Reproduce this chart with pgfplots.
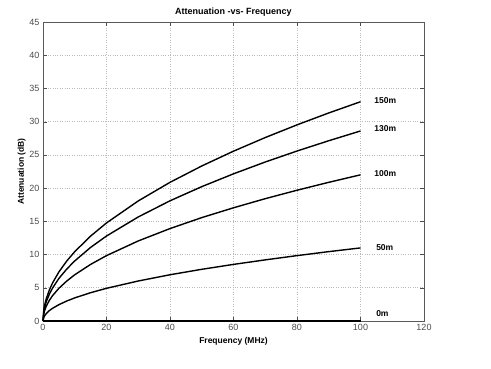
\documentclass[border=0pt]{standalone}
\usepackage{pgfplots}
\pgfplotsset{compat=1.18}
\usepackage{fontspec}
\setmainfont{Liberation Sans}
\begin{document}
\begin{tikzpicture}[x=1pt,y=1pt]
\path[use as bounding box] (0,0) rectangle (491,368);
\begin{axis}[
  at={(43pt,47pt)}, anchor=south west,
  scale only axis, width=381pt, height=299pt,
  xmin=0, xmax=120, ymin=0, ymax=45,
  xtick={0,20,...,120}, ytick={0,5,...,45},
  grid=major,
  major grid style={gray!55, dotted, line width=0.6pt},
  axis line style={gray!70!black, line width=0.8pt},
  tick style={gray!60!black},
  tick align=inside,
  xticklabel style={font=\fontsize{9}{10}\selectfont, text=black!70},
  yticklabel style={font=\fontsize{9}{10}\selectfont, text=black!70},
  /pgf/number format/assume math mode=true,
  title={\textbf{Attenuation -vs- Frequency}},
  title style={font=\fontsize{9}{10}\selectfont, yshift=-4pt},
  xlabel={\textbf{Frequency (MHz)}},
  ylabel={\textbf{Attenuation (dB)}},
  xlabel style={font=\fontsize{8.5}{10}\selectfont, yshift=0pt},
  ylabel style={font=\fontsize{8.5}{10}\selectfont, yshift=-3pt},
  clip=false,
]
\addplot[black, line width=1.4pt] coordinates {
(0,0) (0.25,1.65) (0.5,2.33) (1,3.30) (2,4.67) (3,5.72) (5,7.38) (7.5,9.04) (10,10.44) (15,12.78) (20,14.76) (30,18.07) (40,20.87) (50,23.33) (60,25.56) (70,27.61) (80,29.52) (90,31.31) (100,33.00)};
\addplot[black, line width=1.4pt] coordinates {
(0,0) (0.25,1.43) (0.5,2.02) (1,2.86) (2,4.04) (3,4.95) (5,6.40) (7.5,7.83) (10,9.04) (15,11.08) (20,12.79) (30,15.66) (40,18.09) (50,20.22) (60,22.15) (70,23.93) (80,25.58) (90,27.13) (100,28.60)};
\addplot[black, line width=1.4pt] coordinates {
(0,0) (0.25,1.10) (0.5,1.56) (1,2.20) (2,3.11) (3,3.81) (5,4.92) (7.5,6.02) (10,6.96) (15,8.52) (20,9.84) (30,12.05) (40,13.91) (50,15.56) (60,17.04) (70,18.41) (80,19.68) (90,20.87) (100,22.00)};
\addplot[black, line width=1.4pt] coordinates {
(0,0) (0.25,0.55) (0.5,0.78) (1,1.10) (2,1.56) (3,1.91) (5,2.46) (7.5,3.01) (10,3.48) (15,4.26) (20,4.92) (30,6.02) (40,6.96) (50,7.78) (60,8.52) (70,9.20) (80,9.84) (90,10.44) (100,11.00)};
\addplot[black, line width=1.4pt] coordinates {(0,0) (100,0)};
\node[anchor=west, font=\fontsize{8.5}{9}\selectfont\bfseries, inner sep=0pt] at (axis cs:104.3,33.1) {150m};
\node[anchor=west, font=\fontsize{8.5}{9}\selectfont\bfseries, inner sep=0pt] at (axis cs:104.3,28.9) {130m};
\node[anchor=west, font=\fontsize{8.5}{9}\selectfont\bfseries, inner sep=0pt] at (axis cs:104.3,22.2) {100m};
\node[anchor=west, font=\fontsize{8.5}{9}\selectfont\bfseries, inner sep=0pt] at (axis cs:104.9,11.0) {50m};
\node[anchor=west, font=\fontsize{8.5}{9}\selectfont\bfseries, inner sep=0pt] at (axis cs:104.9,1.05) {0m};
\end{axis}
\end{tikzpicture}
\end{document}
